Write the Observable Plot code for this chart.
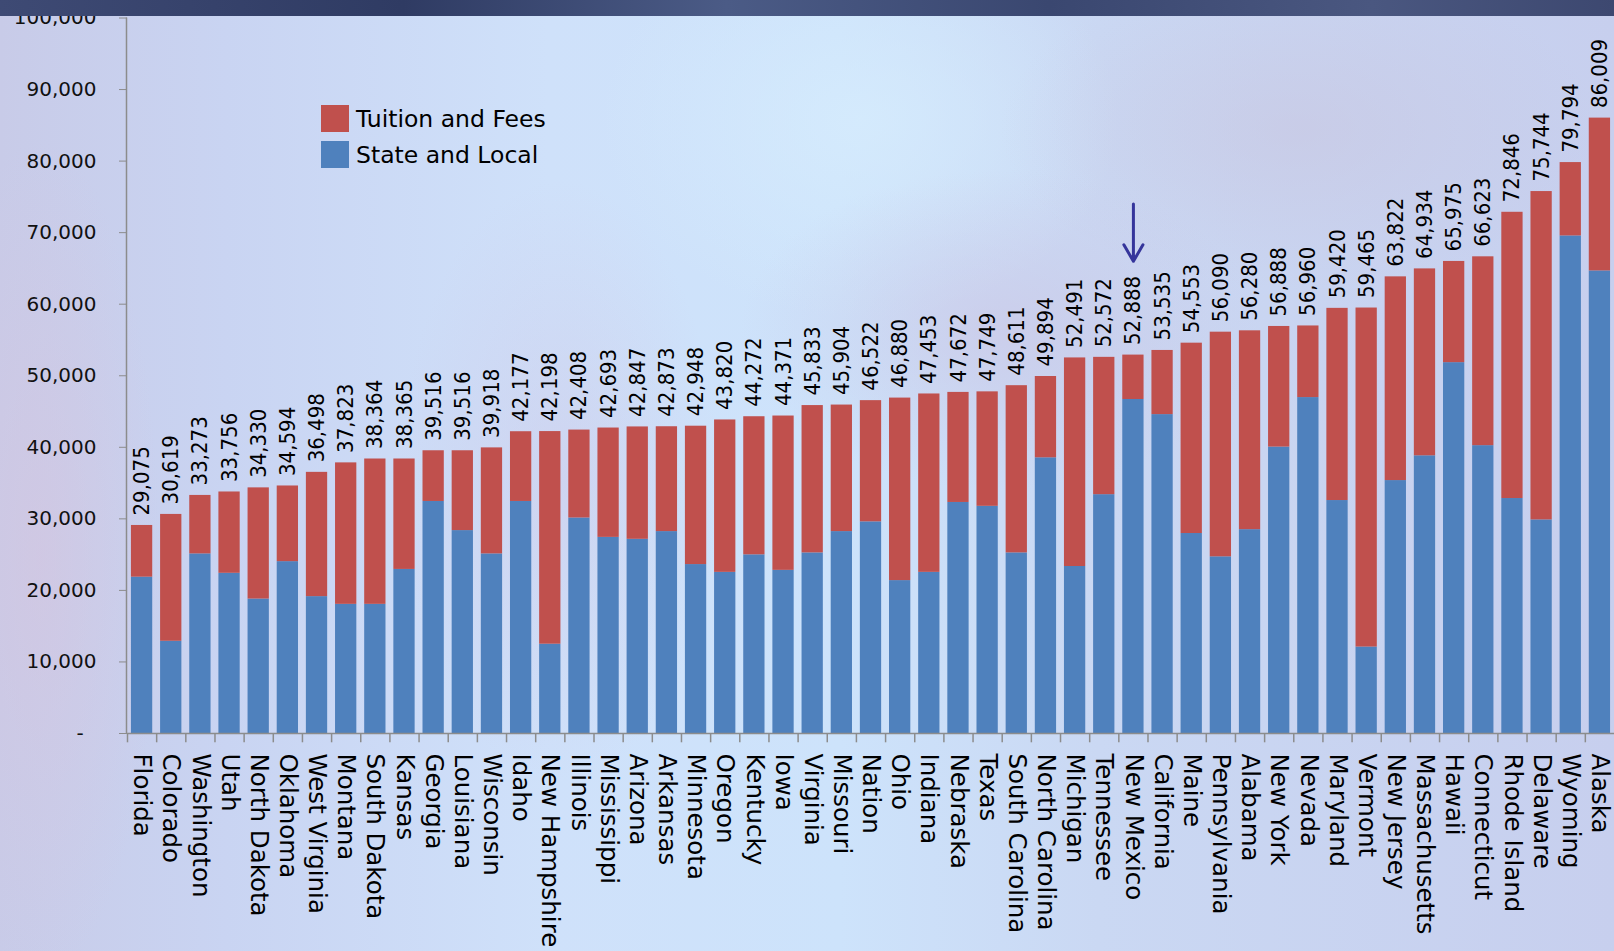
<!DOCTYPE html>
<html>
<head>
<meta charset="utf-8">
<script src="https://cdn.jsdelivr.net/npm/d3@7"></script>
<script src="https://cdn.jsdelivr.net/npm/@observablehq/plot@0.6"></script>
<style>
html, body { margin: 0; padding: 0; width: 1614px; height: 951px; overflow: hidden; }
body {
  position: relative;
  font-family: "DejaVu Sans", sans-serif;
  background:
    radial-gradient(ellipse 120px 420px at 40px 560px, rgba(214,196,222,0.55), rgba(214,196,222,0)),
    radial-gradient(ellipse 160px 300px at 560px 480px, rgba(205,196,228,0.45), rgba(205,196,228,0)),
    radial-gradient(ellipse 260px 160px at 1000px 330px, rgba(203,194,226,0.55), rgba(203,194,226,0)),
    radial-gradient(ellipse 300px 160px at 1300px 130px, rgba(200,196,222,0.5), rgba(200,196,222,0)),
    radial-gradient(ellipse 260px 200px at 860px 120px, rgba(214,236,253,0.8), rgba(214,236,253,0)),
    linear-gradient(90deg, #c8cbe8 0%, #c9d4f2 14%, #cfe1fa 34%, #cde3fb 52%, #cad8f3 68%, #c7cfee 100%);
}
#topbar {
  position: absolute; left: 0; top: 0; width: 1614px; height: 16px; z-index: 3;
  background: linear-gradient(90deg, #3e4a74 0%, #2f3b63 25%, #4b5b86 45%, #3a4770 65%, #4a5780 85%, #3d4870 100%);
}
#chart { position: absolute; left: 0; top: 0; z-index: 1; }
#legend { position: absolute; left: 321px; top: 105px; z-index: 2; }
.row { display: flex; align-items: center; height: 27px; margin-bottom: 9px; }
.sw { width: 28px; height: 27px; margin-right: 7px; }
.lbl { font-size: 23.5px; color: #000; font-family: "DejaVu Sans", sans-serif; }
svg g[aria-label="text"] text { font-family: "DejaVu Sans Condensed", "DejaVu Sans", sans-serif; font-stretch: condensed; }
</style>
</head>
<body>
<div id="topbar"></div>
<div id="chart"></div>
<div id="legend"></div>
<script>
// ---- data ----
const states = ["Florida","Colorado","Washington","Utah","North Dakota","Oklahoma","West Virginia","Montana","South Dakota","Kansas","Georgia","Louisiana","Wisconsin","Idaho","New Hampshire","Illinois","Mississippi","Arizona","Arkansas","Minnesota","Oregon","Kentucky","Iowa","Virginia","Missouri","Nation","Ohio","Indiana","Nebraska","Texas","South Carolina","North Carolina","Michigan","Tennessee","New Mexico","California","Maine","Pennsylvania","Alabama","New York","Nevada","Maryland","Vermont","New Jersey","Massachusetts","Hawaii","Connecticut","Rhode Island","Delaware","Wyoming","Alaska"];
const totals = [29075,30619,33273,33756,34330,34594,36498,37823,38364,38365,39516,39516,39918,42177,42198,42408,42693,42847,42873,42948,43820,44272,44371,45833,45904,46522,46880,47453,47672,47749,48611,49894,52491,52572,52888,53535,54553,56090,56280,56888,56960,59420,59465,63822,64934,65975,66623,72846,75744,79794,86009];
const stateLocal = [21850,12890,25100,22390,18790,24020,19130,18050,18050,22930,32430,28360,25100,32430,12480,30120,27410,27140,28220,23610,22520,24970,22800,25240,28220,29580,21370,22520,32290,31750,25240,38530,23340,33380,46680,44570,27950,24690,28490,40030,46950,32560,12080,35350,38810,51830,40230,32840,29850,69540,64650];
const seriesNames = ["Tuition and Fees", "State and Local"];
const seriesColors = ["#C0504D", "#4F81BD"];
const yTicks = [0,10000,20000,30000,40000,50000,60000,70000,80000,90000,100000];
const arrowState = "New Mexico";
const arrowFrom = 74000, arrowTo = 66000;

// ---- build tables ----
const rows = [];
states.forEach((s, i) => {
  rows.push({state: s, series: "State and Local", value: stateLocal[i]});
  rows.push({state: s, series: "Tuition and Fees", value: totals[i] - stateLocal[i]});
});
const totalRows = states.map((s, i) => ({state: s, total: totals[i]}));
const fmt = d3.format(",");

const W = 1614, H = 951, mL = 127, mR = 0;
const step = (W - mL - mR) / states.length;

const chart = Plot.plot({
  width: W, height: H,
  marginTop: 17.5, marginBottom: 218, marginLeft: mL, marginRight: mR,
  style: {background: "transparent", fontFamily: "DejaVu Sans", overflow: "visible"},
  x: {domain: states, paddingInner: 0.27, paddingOuter: 0.135, align: 0.5, round: false, label: null},
  y: {domain: [0, 100000], label: null},
  color: {domain: seriesNames, range: seriesColors},
  marks: [
    Plot.barY(rows, {x: "state", y: "value", fill: "series"}),
    Plot.ruleY([0], {stroke: "#8c8c8c", strokeWidth: 1.5}),
    Plot.ruleX([states[0]], {x: d => d, dx: -step / 2 - 1, y1: 0, y2: 100000, stroke: "#8c8c8c", strokeWidth: 1.5}),
    Plot.ruleX(states, {x: d => d, dx: -step / 2, y1: 0, y2: -1300, stroke: "#8c8c8c", strokeWidth: 1.5}),
    Plot.axisY({ticks: yTicks, tickSize: 8, tickPadding: 23, fontSize: 20, stroke: "#8c8c8c", fill: "#111",
      tickFormat: d => d === 0 ? "-\u00a0\u00a0" : fmt(d), label: null}),
    Plot.axisX({tickSize: 0, tickRotate: 90, tickPadding: 20, fontSize: 24.5, fill: "#000", label: null}),
    Plot.text(totalRows, {x: "state", y: "total", text: d => fmt(d.total), rotate: -90, textAnchor: "start",
      lineAnchor: "middle", dy: -10, fontSize: 22, fill: "#000"}),
    Plot.arrow([arrowState], {x: d => d, y1: arrowFrom, y2: arrowTo, stroke: "#35359b", strokeWidth: 3,
      headLength: 10, headAngle: 60})
  ]
});
document.getElementById("chart").appendChild(chart);

// legend
const legend = document.getElementById("legend");
seriesNames.forEach((name, i) => {
  const row = document.createElement("div");
  row.className = "row";
  const sw = document.createElement("div");
  sw.className = "sw";
  sw.style.background = seriesColors[i];
  const lbl = document.createElement("div");
  lbl.className = "lbl";
  lbl.textContent = name;
  row.appendChild(sw); row.appendChild(lbl);
  legend.appendChild(row);
});
</script>
</body>
</html>
